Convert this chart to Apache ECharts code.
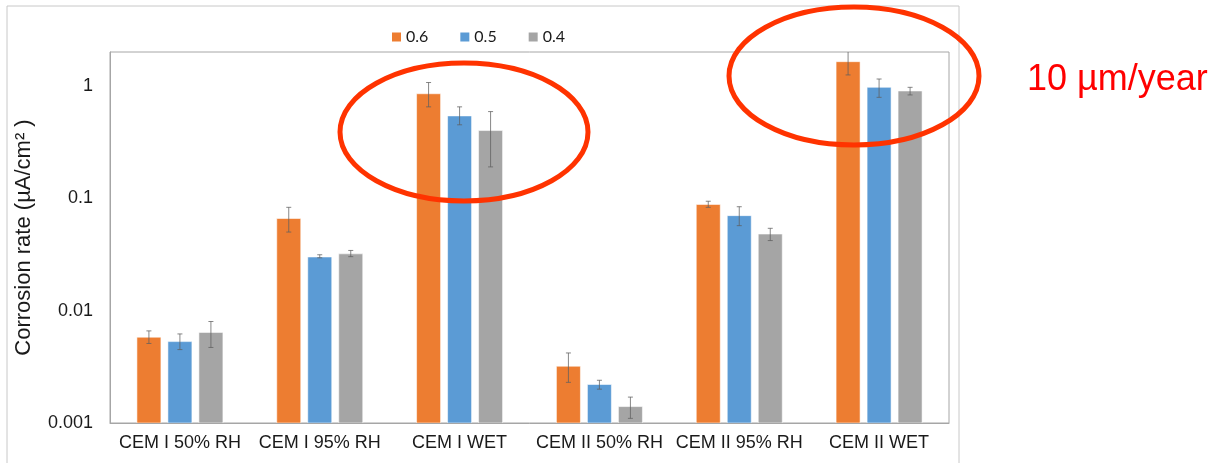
<!DOCTYPE html>
<html>
<head>
<meta charset="utf-8">
<script src="https://cdn.jsdelivr.net/npm/echarts@6/dist/echarts.min.js"></script>
<style>
  html, body { margin: 0; padding: 0; background: #ffffff; }
  #chart { width: 1223px; height: 463px; }
</style>
</head>
<body>
<div id="chart"></div>
<script>
// Exposure conditions along the x axis
const categories = ['CEM I 50% RH', 'CEM I 95% RH', 'CEM I WET', 'CEM II 50% RH', 'CEM II 95% RH', 'CEM II WET'];

// w/c ratio series names
const seriesNames = ['0.6', '0.5', '0.4'];

// Mean corrosion rate (µA/cm²) per condition
const rate06 = [0.0058, 0.066, 0.85, 0.0032, 0.088, 1.64];
const rate05 = [0.0053, 0.030, 0.54, 0.0022, 0.070, 0.97];
const rate04 = [0.0064, 0.032, 0.40, 0.0014, 0.048, 0.90];

// Error bar lower / upper limits
const low06  = [0.0051, 0.050, 0.65, 0.0023, 0.083, 1.25];
const high06 = [0.0066, 0.083, 1.07, 0.0042, 0.094, 2.03];
const low05  = [0.0045, 0.0295, 0.45, 0.0020, 0.057, 0.79];
const high05 = [0.0062, 0.0314, 0.65, 0.0024, 0.084, 1.15];
const low04  = [0.0047, 0.0302, 0.19, 0.0011, 0.042, 0.83];
const high04 = [0.0080, 0.0343, 0.59, 0.0017, 0.054, 0.97];

// Log axis range
const yMin = 0.001;
const yMax = 2;

const colors = ['#ED7D31', '#5B9BD5', '#A5A5A5'];
const rates = [rate06, rate05, rate04];
const lows = [low06, low05, low04];
const highs = [high06, high05, high04];

// Bars are drawn from the axis floor (yMin) up to the value on the log scale
const BAR_W = 24;
const BAR_GAP = 7;
const offsets = [-(BAR_W + BAR_GAP), 0, BAR_W + BAR_GAP];

const chart = echarts.init(document.getElementById('chart'), null, { renderer: 'canvas' });

const barSeries = rates.map((vals, i) => ({
  name: seriesNames[i],
  type: 'custom',
  clip: true,
  z: 2,
  itemStyle: { color: colors[i] },
  data: vals.map((v, k) => [k, v]),
  encode: { x: 0, y: 1 },
  renderItem: function (params, api) {
    const k = api.value(0);
    const pTop = api.coord([k, api.value(1)]);
    const pBase = api.coord([k, yMin]);
    const x = pTop[0] + offsets[i] - BAR_W / 2;
    return {
      type: 'rect',
      shape: { x: x, y: pTop[1], width: BAR_W, height: pBase[1] - pTop[1] },
      style: { fill: api.visual('color'), stroke: 'rgba(255,255,255,0.55)', lineWidth: 1 }
    };
  }
}));

const errSeries = rates.map((vals, i) => ({
  type: 'custom',
  name: seriesNames[i] + ' err',
  clip: true,
  z: 5,
  silent: true,
  data: categories.map((c, k) => [k, lows[i][k], highs[i][k]]),
  encode: { x: 0, y: [1, 2] },
  renderItem: function (params, api) {
    const k = api.value(0);
    const pLo = api.coord([k, api.value(1)]);
    const pHi = api.coord([k, api.value(2)]);
    const x = pLo[0] + offsets[i];
    const cap = 2.5;
    const style = { stroke: 'rgba(95,95,95,0.75)', lineWidth: 1 };
    return {
      type: 'group',
      children: [
        { type: 'line', shape: { x1: x, y1: pLo[1], x2: x, y2: pHi[1] }, style: style },
        { type: 'line', shape: { x1: x - cap, y1: pLo[1], x2: x + cap, y2: pLo[1] }, style: style },
        { type: 'line', shape: { x1: x - cap, y1: pHi[1], x2: x + cap, y2: pHi[1] }, style: style }
      ]
    };
  }
}));

const option = {
  animation: false,
  backgroundColor: '#ffffff',
  textStyle: { fontFamily: 'Liberation Sans, Arial, sans-serif' },
  legend: {
    data: seriesNames.map((n, i) => ({ name: n, itemStyle: { color: colors[i] } })),
    left: 392,
    top: 28,
    padding: 0,
    itemWidth: 9,
    itemHeight: 9,
    itemGap: 32,
    icon: 'rect',
    textStyle: { fontFamily: 'Lato, sans-serif', fontSize: 16, color: '#1a1a1a', lineHeight: 18 }
  },
  grid: {
    left: 110,
    right: 274,
    top: 52,
    bottom: 40,
    show: true,
    borderColor: '#a6a6a6',
    borderWidth: 1,
    backgroundColor: 'transparent'
  },
  xAxis: {
    type: 'category',
    data: categories,
    axisLine: { lineStyle: { color: '#a6a6a6', width: 1 } },
    axisTick: { show: false },
    axisLabel: { color: '#1a1a1a', fontSize: 18, margin: 11, interval: 0 },
    splitLine: { show: false }
  },
  yAxis: {
    type: 'log',
    logBase: 10,
    min: yMin,
    max: yMax,
    name: 'Corrosion rate (µA/cm² )',
    nameLocation: 'middle',
    nameRotate: 90,
    nameGap: 75,
    nameTextStyle: { fontSize: 22, color: '#1a1a1a' },
    axisLine: { show: true, lineStyle: { color: '#a6a6a6' } },
    axisTick: { show: false },
    axisLabel: {
      color: '#1a1a1a',
      fontSize: 18,
      margin: 17,
      showMaxLabel: false,
      formatter: function (v) {
        const e = Math.log10(v);
        if (Math.abs(e - Math.round(e)) > 1e-6) return '';
        return String(Number(v.toPrecision(3)));
      }
    },
    splitLine: { show: false }
  },
  series: barSeries.concat(errSeries),
  graphic: [
    {
      type: 'rect',
      shape: { x: 7, y: 6, width: 952, height: 480 },
      style: { fill: 'none', stroke: '#c8c8c8', lineWidth: 1 },
      silent: true,
      z: -1
    },
    {
      type: 'ellipse',
      shape: { cx: 464, cy: 132, rx: 124, ry: 69 },
      style: { fill: 'none', stroke: '#FF3300', lineWidth: 5 },
      silent: true,
      z: 100
    },
    {
      type: 'ellipse',
      shape: { cx: 854, cy: 76, rx: 125, ry: 69 },
      style: { fill: 'none', stroke: '#FF3300', lineWidth: 5 },
      silent: true,
      z: 100
    },
    {
      type: 'text',
      x: 1027,
      y: 62,
      style: {
        text: '10 µm/year',
        fill: '#FF0000',
        font: '36px "Liberation Sans", Arial, sans-serif',
        verticalAlign: 'alphabetic'
      },
      silent: true,
      z: 100
    }
  ]
};

chart.setOption(option);
</script>
</body>
</html>
